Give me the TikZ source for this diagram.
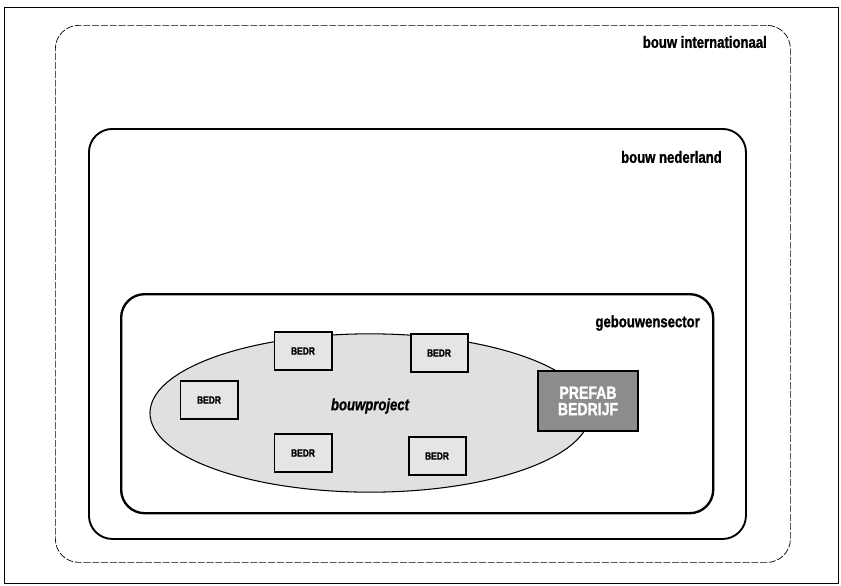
\documentclass[tikz,border=0pt]{standalone}
\usepackage{fontspec}
\setmainfont{Liberation Sans}
\newfontfamily\heavyfont[FakeStretch=0.8,FakeBold=1.2]{Liberation Sans Bold}
\newfontfamily\heavyitfont[FakeStretch=0.8,FakeBold=1.0]{Liberation Sans Bold Italic}
\usetikzlibrary{shapes.geometric,positioning}

\begin{document}
\begin{tikzpicture}[x=0.03cm,y=-0.03cm,
   zone/.style={rounded corners=20,inner sep=0pt,anchor=north west},
   zonelabel/.style={font=\heavyfont\fontsize{14}{16}\selectfont,anchor=east,inner sep=0pt},
   bedr/.style={draw,line width=1.7pt,fill=black!10,minimum width=1.71cm,minimum height=1.14cm,
      font=\heavyfont\fontsize{9}{10}\selectfont},
   prefabbox/.style={draw,line width=2.4pt,fill=black!45,text=white,minimum width=3.0cm,minimum height=1.8cm,
      align=center,inner sep=1pt,font=\heavyfont\fontsize{15}{14}\selectfont}]
  \useasboundingbox (0,0) rectangle (841,585);
  \draw[line width=0.6pt] (4,7) rectangle (838,583);
  % nested zones
  \node[zone,draw,dash pattern=on 6pt off 1.5pt,line width=0.6pt,
        minimum width=22.05cm,minimum height=16.11cm] (intl) at (55,25) {};
  \node[zone,draw,line width=1.6pt,minimum width=19.71cm,minimum height=12.3cm] (nl) at (88,128) {};
  \node[zone,draw,line width=2pt,minimum width=17.76cm,minimum height=6.57cm] (sector) at (120,293) {};
  \node[zonelabel] (intllabel) at (767,42) {bouw internationaal};
  \node[zonelabel] (nllabel) at (722,157) {bouw nederland};
  \node[zonelabel] (sectorlabel) at (700,323) {gebouwensector};
  % bouwproject
  \node[ellipse,draw,line width=0.9pt,fill=black!12,minimum width=13.2cm,minimum height=4.75cm] (project) at (370,413) {};
  \node[font=\heavyitfont\fontsize{14}{16}\selectfont] (projectlabel) at (370,406) {bouwproject};
  \node[bedr] (b1) at (303,351) {BEDR};
  \node[bedr] (b2) at (439,353) {BEDR};
  \node[bedr] (b3) at (209,400) {BEDR};
  \node[bedr] (b4) at (303,453) {BEDR};
  \node[bedr] (b5) at (437,456) {BEDR};
  \node[prefabbox] (prefab) at (588,401) {PREFAB\\BEDRIJF};
\end{tikzpicture}
\end{document}
